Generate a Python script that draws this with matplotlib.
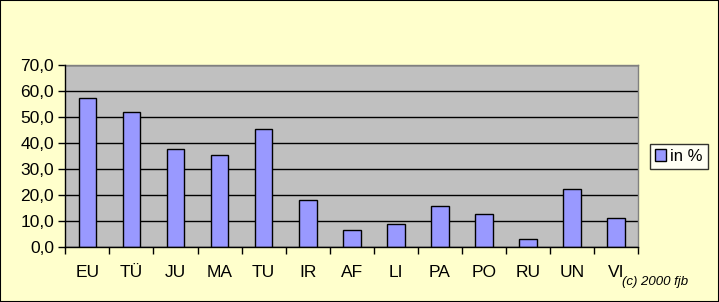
import matplotlib
matplotlib.use("Agg")
import matplotlib.pyplot as plt
from matplotlib.patches import Rectangle
from matplotlib.ticker import FuncFormatter, MultipleLocator

categories = ["EU", "TÜ", "JU", "MA", "TU", "IR", "AF", "LI", "PA", "PO", "RU", "UN", "VI"]
values = [57.3, 51.9, 37.7, 35.4, 45.4, 18.1, 6.5, 8.8, 15.8, 12.7, 3.1, 22.3, 11.2]
series_label = "in %"

plt.rcParams['font.family'] = ['Liberation Sans', 'DejaVu Sans']

W, H = 719, 302
fig = plt.figure(figsize=(W / 100, H / 100), dpi=100, facecolor="#FFFFCC")
ax = fig.add_axes([65.3 / W, 1 - 247.3 / H, (638.3 - 65.3) / W, (247.3 - 65.3) / H])
ax.set_facecolor("#C0C0C0")

x = list(range(len(categories)))
ax.bar(x, values, width=0.4, color="#9999FF", edgecolor="black", linewidth=1.0,
       label=series_label, zorder=3)

ax.set_xlim(-0.5, len(categories) - 0.5)
ax.set_ylim(0, 70)
ax.yaxis.set_major_locator(MultipleLocator(10))
ax.yaxis.set_major_formatter(FuncFormatter(lambda v, p: f"{v:.1f}".replace(".", ",")))
ax.grid(axis="y", color="black", linewidth=1.0, zorder=1)

ax.set_xticks(x)
ax.set_xticklabels(categories)
ax.set_xticks([i - 0.5 for i in range(len(categories) + 1)], minor=True)
ax.tick_params(axis="x", which="major", length=0, pad=13, labelsize=12.5)
ax.tick_params(axis="x", which="minor", length=5, width=1, direction="out", color="black")
ax.tick_params(axis="y", length=5, width=1, direction="out", labelsize=12.5, pad=3)

for s in ["top", "right"]:
    ax.spines[s].set_color("#808080")
    ax.spines[s].set_linewidth(1)
for s in ["left", "bottom"]:
    ax.spines[s].set_color("black")
    ax.spines[s].set_linewidth(1)
    ax.spines[s].set_zorder(4)

leg = fig.legend(loc="center", bbox_to_anchor=(678.8 / W, 1 - 156.5 / H), frameon=True,
                 fancybox=False, edgecolor="black", facecolor="white", fontsize=12,
                 handlelength=0.7, handleheight=0.7, handletextpad=0.25,
                 borderpad=0.3, borderaxespad=0)
leg.get_frame().set_linewidth(1)

fig.text(655 / W, 1 - 282 / H, "(c) 2000 fjb", fontsize=9.5, style="italic",
         ha="center", va="center")

fig.patches.append(Rectangle((0, 0), 1, 1, transform=fig.transFigure, fill=False,
                             edgecolor="black", linewidth=1.5, zorder=10))

fig.savefig("out.png", dpi=100, facecolor=fig.get_facecolor())
